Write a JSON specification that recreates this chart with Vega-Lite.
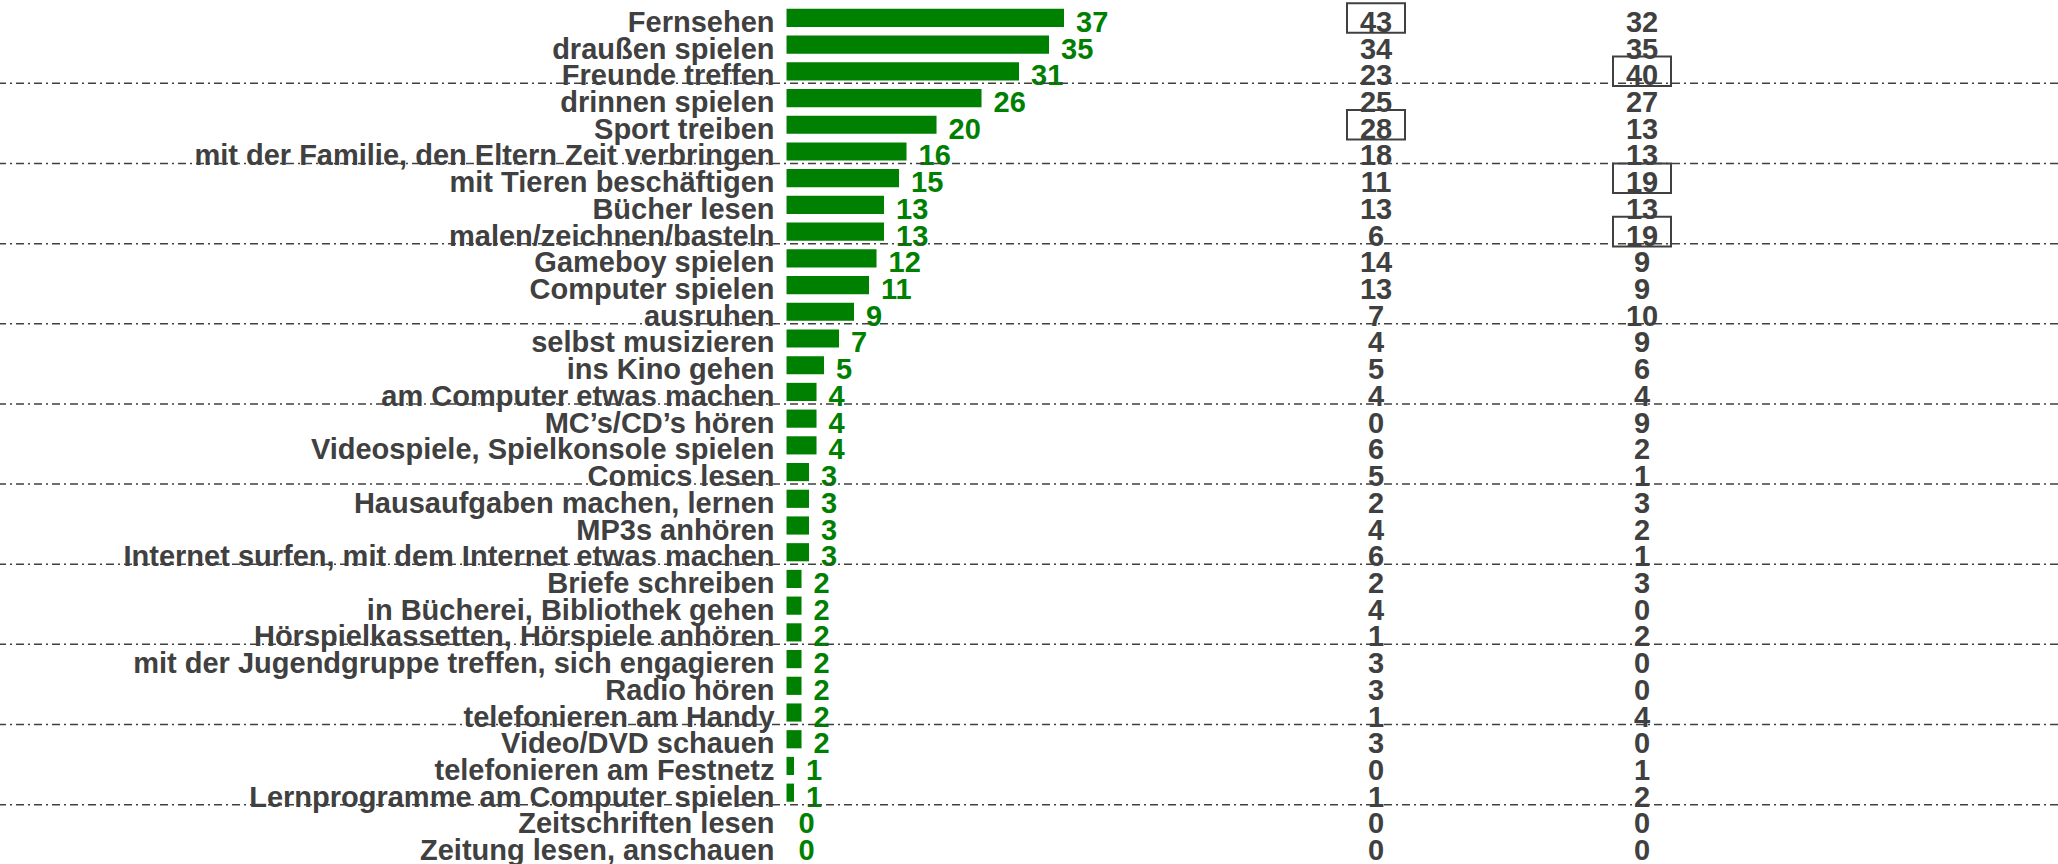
{
  "$schema": "https://vega.github.io/schema/vega-lite/v6.json",
  "width": 2058,
  "height": 864,
  "padding": 0,
  "autosize": {"type": "none"},
  "background": "white",
  "config": {
    "view": {"stroke": null},
    "font": "Liberation Sans",
    "text": {"font": "Liberation Sans", "fontWeight": "bold", "fontSize": 29}
  },
  "data": {
    "values": [
      {"t": "Fernsehen", "v": 37, "a": 43, "b": 32},
      {"t": "draußen spielen", "v": 35, "a": 34, "b": 35},
      {"t": "Freunde treffen", "v": 31, "a": 23, "b": 40},
      {"t": "drinnen spielen", "v": 26, "a": 25, "b": 27},
      {"t": "Sport treiben", "v": 20, "a": 28, "b": 13},
      {"t": "mit der Familie, den Eltern Zeit verbringen", "v": 16, "a": 18, "b": 13},
      {"t": "mit Tieren beschäftigen", "v": 15, "a": 11, "b": 19},
      {"t": "Bücher lesen", "v": 13, "a": 13, "b": 13},
      {"t": "malen/zeichnen/basteln", "v": 13, "a": 6, "b": 19},
      {"t": "Gameboy spielen", "v": 12, "a": 14, "b": 9},
      {"t": "Computer spielen", "v": 11, "a": 13, "b": 9},
      {"t": "ausruhen", "v": 9, "a": 7, "b": 10},
      {"t": "selbst musizieren", "v": 7, "a": 4, "b": 9},
      {"t": "ins Kino gehen", "v": 5, "a": 5, "b": 6},
      {"t": "am Computer etwas machen\u00a0", "v": 4, "a": 4, "b": 4},
      {"t": "MC’s/CD’s hören", "v": 4, "a": 0, "b": 9},
      {"t": "Videospiele, Spielkonsole spielen", "v": 4, "a": 6, "b": 2},
      {"t": "Comics lesen", "v": 3, "a": 5, "b": 1},
      {"t": "Hausaufgaben machen, lernen", "v": 3, "a": 2, "b": 3},
      {"t": "MP3s anhören", "v": 3, "a": 4, "b": 2},
      {"t": "Internet surfen, mit dem Internet etwas machen", "v": 3, "a": 6, "b": 1},
      {"t": "Briefe schreiben", "v": 2, "a": 2, "b": 3},
      {"t": "in Bücherei, Bibliothek gehen", "v": 2, "a": 4, "b": 0},
      {"t": "Hörspielkassetten, Hörspiele anhören", "v": 2, "a": 1, "b": 2},
      {"t": "mit der Jugendgruppe treffen, sich engagieren", "v": 2, "a": 3, "b": 0},
      {"t": "Radio hören", "v": 2, "a": 3, "b": 0},
      {"t": "telefonieren am Handy", "v": 2, "a": 1, "b": 4},
      {"t": "Video/DVD schauen", "v": 2, "a": 3, "b": 0},
      {"t": "telefonieren am Festnetz", "v": 1, "a": 0, "b": 1},
      {"t": "Lernprogramme am Computer spielen", "v": 1, "a": 1, "b": 2},
      {"t": "Zeitschriften lesen", "v": 0, "a": 0, "b": 0},
      {"t": "Zeitung lesen, anschauen", "v": 0, "a": 0, "b": 0}
    ]
  },
  "encoding": {
    "y": {
      "field": "t",
      "type": "nominal",
      "sort": null,
      "axis": null,
      "scale": {"paddingInner": 0.32, "paddingOuter": 0.33}
    }
  },
  "layer": [
    {
      "layer": [
        {
          "mark": {"type": "bar", "color": "#008000"},
          "encoding": {
            "x": {"field": "v", "type": "quantitative", "axis": null, "scale": {"domain": [-104.87, 169.53], "nice": false, "zero": false}}
          }
        },
        {
          "mark": {"type": "text", "align": "right", "baseline": "alphabetic", "dx": -12, "dy": 14, "color": "#404040"},
          "encoding": {
            "x": {"datum": 0},
            "text": {"field": "t", "type": "nominal"}
          }
        },
        {
          "mark": {"type": "text", "align": "left", "baseline": "alphabetic", "dx": 12, "dy": 14, "color": "#008000"},
          "encoding": {
            "x": {"field": "v", "type": "quantitative"},
            "text": {"field": "v", "type": "quantitative"}
          }
        },
        {
          "transform": [
            {"filter": {"field": "t", "oneOf": ["Freunde treffen", "mit der Familie, den Eltern Zeit verbringen", "malen/zeichnen/basteln", "ausruhen", "am Computer etwas machen\u00a0", "Comics lesen", "Internet surfen, mit dem Internet etwas machen", "Hörspielkassetten, Hörspiele anhören", "telefonieren am Handy", "Lernprogramme am Computer spielen"]}}
          ],
          "mark": {"type": "rule", "yOffset": 12, "strokeDash": [8, 4, 2, 4], "color": "#404040", "strokeWidth": 1.5},
          "encoding": {}
        }
      ]
    },
    {
      "transform": [{"fold": ["a", "b"], "as": ["spalte", "wert"]}],
      "encoding": {
        "x": {"field": "spalte", "type": "nominal", "axis": null, "scale": {"type": "point", "domain": ["a", "b"], "range": [1376, 1642], "padding": 0}}
      },
      "layer": [
        {
          "mark": {"type": "text", "align": "center", "baseline": "alphabetic", "dy": 14, "color": "#404040"},
          "encoding": {"text": {"field": "wert", "type": "quantitative"}}
        },
        {
          "transform": [
            {"filter": "(datum.spalte === 'a' && (datum.t === 'Fernsehen' || datum.t === 'Sport treiben')) || (datum.spalte === 'b' && (datum.t === 'Freunde treffen' || datum.t === 'mit Tieren beschäftigen' || datum.t === 'malen/zeichnen/basteln'))"}
          ],
          "mark": {"type": "point", "shape": "M-1,-0.509H1V0.509H-1Z", "size": 3364, "filled": false, "stroke": "#404040", "strokeWidth": 2, "opacity": 1},
          "encoding": {}
        }
      ]
    }
  ],
  "resolve": {"scale": {"x": "independent"}}
}
